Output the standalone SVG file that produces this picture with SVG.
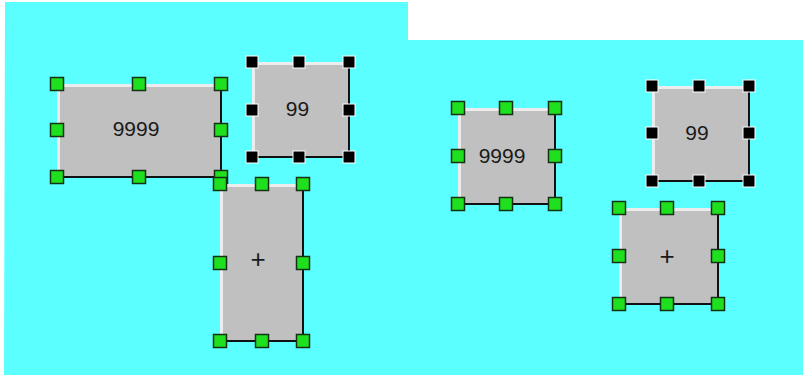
<svg xmlns="http://www.w3.org/2000/svg" width="803" height="375" viewBox="0 0 803 375">
<style>
.bg{fill:#5cffff}
.box{fill:#c0c0c0}
.hi{fill:none;stroke:#ececec;stroke-width:3}
.sh{fill:none;stroke:#111;stroke-width:2}
.g{fill:#1ee01e;stroke:#163016;stroke-width:1.5}
.k{fill:#000;stroke:#fff;stroke-width:1}
.t{font-family:"Liberation Sans",Arial,sans-serif;font-size:21px;fill:#1a1a1a;text-anchor:middle}
.p{font-family:"Liberation Sans",Arial,sans-serif;font-size:26px;fill:#1a1a1a;text-anchor:middle}
</style>
<defs>
<rect id="gh" class="g" x="-6.5" y="-6.5" width="13" height="13"/>
<rect id="kh" class="k" x="-6" y="-6" width="12" height="12"/>
</defs>
<rect width="803" height="375" fill="#fff"/>
<polygon class="bg" points="5,2 408,2 408,40 803,40 803,375 4,375"/>
<g id="connectors"/>
<g id="n9999a">
<rect class="box" x="57" y="84" width="164" height="93"/>
<polyline class="hi" points="58.5,177 58.5,85.5 221,85.5"/>
<polyline class="sh" points="221,84 221,177 57,177"/>
<text class="t" x="136" y="136">9999</text>
<use href="#gh" x="57" y="84"/><use href="#gh" x="139" y="84"/><use href="#gh" x="221" y="84"/>
<use href="#gh" x="57" y="130"/><use href="#gh" x="221" y="130"/>
<use href="#gh" x="57" y="177"/><use href="#gh" x="139" y="177"/><use href="#gh" x="221" y="177"/>
</g>
<g id="n99a">
<rect class="box" x="252" y="62" width="97" height="95"/>
<polyline class="hi" points="253.5,157 253.5,63.5 349,63.5"/>
<polyline class="sh" points="349,62 349,157 252,157"/>
<text class="t" x="297.5" y="116">99</text>
<use href="#kh" x="252" y="62"/><use href="#kh" x="299" y="62"/><use href="#kh" x="349" y="62"/>
<use href="#kh" x="252" y="110"/><use href="#kh" x="349" y="110"/>
<use href="#kh" x="252" y="157"/><use href="#kh" x="299" y="157"/><use href="#kh" x="349" y="157"/>
</g>
<g id="nplusa">
<rect class="box" x="220" y="184" width="83" height="157"/>
<polyline class="hi" points="221.5,341 221.5,185.5 303,185.5"/>
<polyline class="sh" points="303,184 303,341 220,341"/>
<text class="p" x="258" y="268">+</text>
<use href="#gh" x="220" y="184"/><use href="#gh" x="262" y="184"/><use href="#gh" x="303" y="184"/>
<use href="#gh" x="220" y="263"/><use href="#gh" x="303" y="263"/>
<use href="#gh" x="220" y="341"/><use href="#gh" x="262" y="341"/><use href="#gh" x="303" y="341"/>
</g>
<g id="n9999b">
<rect class="box" x="458" y="108" width="97" height="96"/>
<polyline class="hi" points="459.5,204 459.5,109.5 555,109.5"/>
<polyline class="sh" points="555,108 555,204 458,204"/>
<text class="t" x="502" y="163">9999</text>
<use href="#gh" x="458" y="108"/><use href="#gh" x="506" y="108"/><use href="#gh" x="555" y="108"/>
<use href="#gh" x="458" y="156"/><use href="#gh" x="555" y="156"/>
<use href="#gh" x="458" y="204"/><use href="#gh" x="506" y="204"/><use href="#gh" x="555" y="204"/>
</g>
<g id="n99b">
<rect class="box" x="652" y="86" width="97" height="95"/>
<polyline class="hi" points="653.5,181 653.5,87.5 749,87.5"/>
<polyline class="sh" points="749,86 749,181 652,181"/>
<text class="t" x="697" y="140">99</text>
<use href="#kh" x="652" y="86"/><use href="#kh" x="699" y="86"/><use href="#kh" x="749" y="86"/>
<use href="#kh" x="652" y="133"/><use href="#kh" x="749" y="133"/>
<use href="#kh" x="652" y="181"/><use href="#kh" x="699" y="181"/><use href="#kh" x="749" y="181"/>
</g>
<g id="nplusb">
<rect class="box" x="619" y="208" width="99" height="96"/>
<polyline class="hi" points="620.5,304 620.5,209.5 718,209.5"/>
<polyline class="sh" points="718,208 718,304 619,304"/>
<text class="p" x="667" y="265">+</text>
<use href="#gh" x="619" y="208"/><use href="#gh" x="667" y="208"/><use href="#gh" x="718" y="208"/>
<use href="#gh" x="619" y="256"/><use href="#gh" x="718" y="256"/>
<use href="#gh" x="619" y="304"/><use href="#gh" x="667" y="304"/><use href="#gh" x="718" y="304"/>
</g>
</svg>
